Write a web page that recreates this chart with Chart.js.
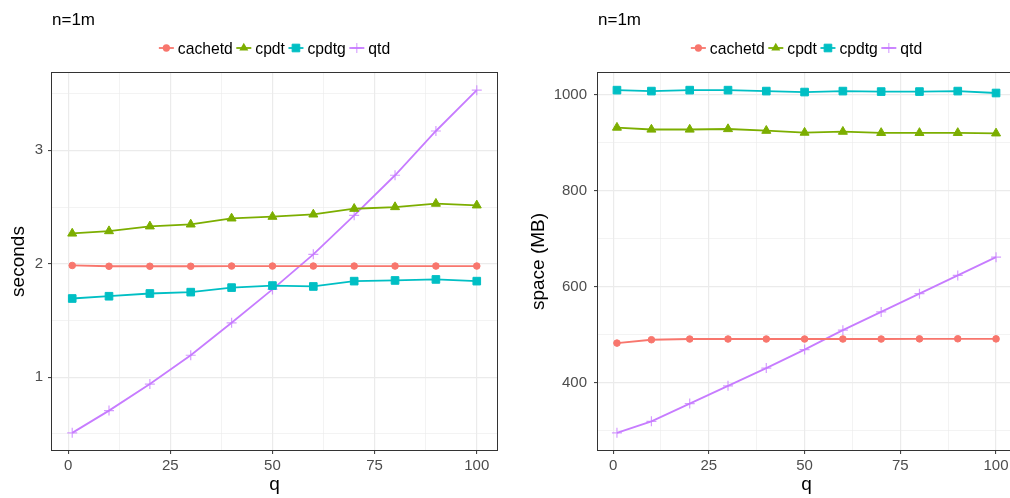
<!DOCTYPE html>
<html>
<head>
<meta charset="utf-8">
<script src="https://cdn.jsdelivr.net/npm/chart.js@4/dist/chart.umd.min.js"></script>
<style>
html,body{margin:0;padding:0;background:#fff;overflow:hidden;width:1010px;height:498px;}
#c1{position:absolute;left:0;top:0;}
#c2{position:absolute;left:505px;top:0;}
</style>
</head>
<body>
<canvas id="c1" width="505" height="498"></canvas>
<canvas id="c2" width="520" height="498"></canvas>
<script>
// ---- data ----
const qValues = [1, 10, 20, 30, 40, 50, 60, 70, 80, 90, 100];
const seriesNames = ['cachetd', 'cpdt', 'cpdtg', 'qtd'];
const secondsCachetd = [1.985, 1.978, 1.978, 1.978, 1.98, 1.98, 1.98, 1.98, 1.98, 1.98, 1.98];
const secondsCpdt = [2.267, 2.288, 2.33, 2.347, 2.40, 2.415, 2.435, 2.485, 2.50, 2.53, 2.515];
const secondsCpdtg = [1.694, 1.714, 1.738, 1.75, 1.79, 1.808, 1.80, 1.847, 1.853, 1.862, 1.847];
const secondsQtd = [0.51, 0.706, 0.94, 1.194, 1.48, 1.774, 2.083, 2.427, 2.78, 3.17, 3.53];
const spaceCachetd = [483, 490, 491.5, 491.5, 491.5, 491.5, 491.5, 491.5, 491.8, 492, 491.8];
const spaceCpdt = [932, 928, 928, 929, 925.5, 921.5, 923.5, 921, 921, 921, 920];
const spaceCpdtg = [1010, 1008, 1010, 1010, 1008, 1006, 1008, 1007, 1007, 1008, 1004];
const spaceQtd = [296, 320, 357, 394, 431, 469.5, 510, 548, 586, 624, 662];
const qMajorTicks = [0, 25, 50, 75, 100];
const qMinorTicks = [12.5, 37.5, 62.5, 87.5];
const secondsMajorTicks = [1, 2, 3];
const secondsMinorTicks = [0.5, 1.5, 2.5, 3.5];
const spaceMajorTicks = [400, 600, 800, 1000];
const spaceMinorTicks = [300, 500, 700, 900];
const panelTitle = 'n=1m';
const xTitle = 'q';
const leftYTitle = 'seconds';
const rightYTitle = 'space (MB)';

// ---- styling ----
const COLORS = ['#F8766D', '#7CAE00', '#00BFC4', '#C77CFF'];
const STYLES = ['circle', 'triangle', 'rect', 'cross'];
const RADII = [3.3, 5.2, 5.4, 5];
const FONT = "'Liberation Sans', Arial, Helvetica, sans-serif";

function expand(arrs, f) {
  let mn = Infinity, mx = -Infinity;
  arrs.forEach(a => a.forEach(v => { mn = Math.min(mn, v); mx = Math.max(mx, v); }));
  const r = mx - mn;
  return [mn - f * r, mx + f * r];
}

function makeDatasets(arrs) {
  return arrs.map((vals, i) => ({
    label: seriesNames[i],
    data: qValues.map((q, j) => ({x: q, y: vals[j]})),
    borderColor: COLORS[i],
    backgroundColor: COLORS[i],
    pointBackgroundColor: COLORS[i],
    pointBorderColor: i === 3 ? 'rgba(199,124,255,0.75)' : COLORS[i],
    pointBorderWidth: i === 3 ? 1.2 : 1,
    borderWidth: 1.8,
    pointStyle: STYLES[i],
    pointRadius: RADII[i],
    tension: 0
  }));
}

function drawMarker(ctx, style, x, y, r, color) {
  ctx.save();
  ctx.fillStyle = color; ctx.strokeStyle = color; ctx.lineWidth = 1;
  ctx.beginPath();
  if (style === 'circle') { ctx.arc(x, y, r, 0, Math.PI * 2); ctx.fill(); }
  else if (style === 'rect') { const s = r * Math.SQRT1_2; ctx.rect(x - s, y - s, 2 * s, 2 * s); ctx.fill(); ctx.stroke(); }
  else if (style === 'triangle') {
    let a = 0;
    ctx.moveTo(x + Math.sin(a) * r, y - Math.cos(a) * r);
    a += 2 * Math.PI / 3; ctx.lineTo(x + Math.sin(a) * r, y - Math.cos(a) * r);
    a += 2 * Math.PI / 3; ctx.lineTo(x + Math.sin(a) * r, y - Math.cos(a) * r);
    ctx.closePath(); ctx.fill();
  } else if (style === 'cross') {
    ctx.moveTo(x - r, y); ctx.lineTo(x + r, y); ctx.moveTo(x, y - r); ctx.lineTo(x, y + r); ctx.stroke();
  }
  ctx.restore();
}

const decorPlugin = {
  id: 'decor',
  afterDatasetsDraw(chart) {
    const ctx = chart.ctx, a = chart.chartArea;
    ctx.save();
    ctx.strokeStyle = '#333333'; ctx.lineWidth = 1;
    ctx.strokeRect(Math.round(a.left) - 0.5, Math.round(a.top) - 0.5, Math.round(a.right - a.left) + 1, Math.round(a.bottom - a.top) + 1);
    ctx.restore();
  },
  afterDraw(chart) {
    const ctx = chart.ctx, a = chart.chartArea;
    ctx.save();
    // title
    ctx.fillStyle = '#000'; ctx.font = '17px ' + FONT; ctx.textBaseline = 'alphabetic'; ctx.textAlign = 'left';
    ctx.fillText(panelTitle, a.left, 25);
    // legend
    ctx.font = '15.7px ' + FONT;
    const keyW = 15, gapKT = 4, gapTK = 3.5;
    const widths = seriesNames.map(n => ctx.measureText(n).width);
    let total = 0;
    widths.forEach((w, i) => { total += keyW + gapKT + w + (i < widths.length - 1 ? gapTK : 0); });
    let x = (a.left + a.right) / 2 - total / 2;
    const ly = 48;
    seriesNames.forEach((n, i) => {
      ctx.strokeStyle = COLORS[i]; ctx.lineWidth = 1.8;
      ctx.beginPath(); ctx.moveTo(x, ly); ctx.lineTo(x + keyW, ly); ctx.stroke();
      drawMarker(ctx, STYLES[i], x + keyW / 2, ly, RADII[i] * (i === 0 ? 1.1 : 1), i === 3 ? 'rgba(199,124,255,0.8)' : COLORS[i]);
      x += keyW + gapKT;
      ctx.fillStyle = '#000'; ctx.textBaseline = 'alphabetic';
      ctx.fillText(n, x, 54);
      x += widths[i] + gapTK;
    });
    ctx.restore();
  }
};

function tickSetter(major, minor) {
  return function(scale) {
    const all = major.map(v => ({value: v, minor: false})).concat(minor.map(v => ({value: v, minor: true})));
    all.sort((p, q) => p.value - q.value);
    scale.ticks = all;
  };
}

function gridOpts() {
  return {
    color: '#EBEBEB',
    lineWidth: c => (c.tick && c.tick.minor) ? 0.6 : 1.2,
    tickColor: c => (c.tick && c.tick.minor) ? 'rgba(0,0,0,0)' : '#333333',
    tickLength: 4,
    tickWidth: 1,
    drawTicks: true
  };
}

function makeChart(id, arrs, yMajor, yMinor, yTitle, yWidth, yTickPad, yTitlePad, padRight) {
  const xr = [qValues[0] - 0.05 * (qValues[qValues.length - 1] - qValues[0]), qValues[qValues.length - 1] + 0.05 * (qValues[qValues.length - 1] - qValues[0])];
  const yr = expand(arrs, 0.05);
  return new Chart(document.getElementById(id), {
    type: 'line',
    data: {datasets: makeDatasets(arrs)},
    plugins: [decorPlugin],
    options: {
      responsive: false,
      animation: false,
      events: [],
      devicePixelRatio: 1,
      layout: {padding: {top: 73, left: 0, right: padRight, bottom: 0}},
      plugins: {legend: {display: false}, title: {display: false}, tooltip: {enabled: false}},
      scales: {
        x: {
          type: 'linear', min: xr[0], max: xr[1],
          afterBuildTicks: tickSetter(qMajorTicks, qMinorTicks),
          afterFit: s => { s.height = 48; },
          grid: gridOpts(),
          border: {display: false},
          ticks: {
            autoSkip: false, maxRotation: 0, padding: 3, color: '#4D4D4D',
            font: {family: FONT, size: 15},
            callback: (v, i, t) => t[i].minor ? '' : String(v)
          },
          title: {display: true, text: xTitle, color: '#000', font: {family: FONT, size: 19}, padding: {top: 0, bottom: 2}}
        },
        y: {
          type: 'linear', min: yr[0], max: yr[1],
          afterBuildTicks: tickSetter(yMajor, yMinor),
          afterFit: s => { s.width = yWidth; },
          grid: gridOpts(),
          border: {display: false},
          ticks: {
            autoSkip: false, padding: yTickPad, color: '#4D4D4D',
            font: {family: FONT, size: 15},
            callback: (v, i, t) => t[i].minor ? '' : String(v)
          },
          title: {display: true, text: yTitle, color: '#000', font: {family: FONT, size: 19}, padding: {top: yTitlePad, bottom: 0}}
        }
      }
    }
  });
}

makeChart('c1', [secondsCachetd, secondsCpdt, secondsCpdtg, secondsQtd], secondsMajorTicks, secondsMinorTicks, leftYTitle, 52, 5, 7, 8);
makeChart('c2', [spaceCachetd, spaceCpdt, spaceCpdtg, spaceQtd], spaceMajorTicks, spaceMinorTicks, rightYTitle, 93, 7, 22, 10);
</script>
</body>
</html>
